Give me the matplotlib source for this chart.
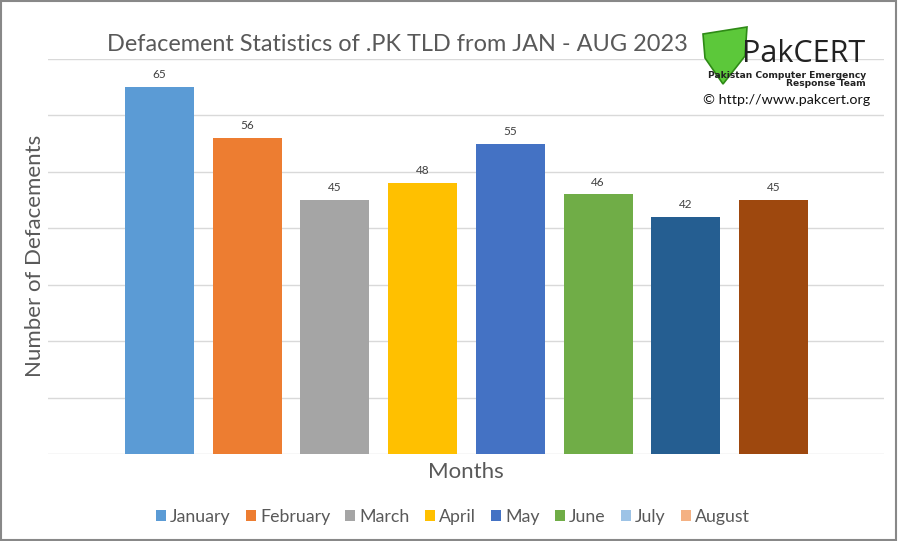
import matplotlib
matplotlib.use("Agg")
import matplotlib.pyplot as plt
from matplotlib.patches import Patch, Polygon, Rectangle

months = ["January", "February", "March", "April", "May", "June", "July", "August"]
values = [65, 56, 45, 48, 55, 46, 42, 45]
bar_colors = ["#5B9BD5", "#ED7D31", "#A5A5A5", "#FFC000", "#4472C4", "#70AD47", "#255E91", "#9E480E"]
legend_colors = ["#5B9BD5", "#ED7D31", "#A5A5A5", "#FFC000", "#4472C4", "#70AD47", "#9DC3E6", "#F4B183"]
yticks = [0, 10, 20, 30, 40, 50, 60, 70]

plt.rcParams['font.family'] = ['Lato', 'DejaVu Sans']
fig = plt.figure(figsize=(8.98, 5.41), dpi=100)
fig.patch.set_facecolor("white")
fig.add_artist(Rectangle((0.001, 0.002), 0.997, 0.996, transform=fig.transFigure,
                         fill=False, edgecolor="#888888", linewidth=1.5))

ax = fig.add_axes([48/898, 1-454/541, (884-48)/898, (454-59)/541])
x = list(range(len(months)))
bars = ax.bar(x, values, width=0.787, color=bar_colors, zorder=3)
for xi, v in zip(x, values):
    ax.text(xi, v + 1.2, str(v), ha="center", va="bottom", fontsize=8.5, color="#404040")
ax.set_xlim(-1.271, 8.26)
ax.set_ylim(0, 70)
ax.set_yticks(yticks)
ax.yaxis.grid(True, color="#D9D9D9", linewidth=1, zorder=0)
ax.tick_params(left=False, bottom=False, labelleft=False, labelbottom=False)
for s in ax.spines.values():
    s.set_visible(False)
ax.set_axisbelow(True)

fig.text(397/898, 1-45/541, "Defacement Statistics of .PK TLD from JAN - AUG 2023",
         ha="center", va="center", fontsize=16.9, color="#595959")
fig.text(35/898, 1-256/541, "Number of Defacements", rotation=90, ha="center", va="center",
         fontsize=16, color="#595959")
fig.text(466/898, 1-472/541, "Months", ha="center", va="center", fontsize=16, color="#595959")

handles = [Patch(facecolor=c, edgecolor="none", label=m) for c, m in zip(legend_colors, months)]
leg = fig.legend(handles=handles, loc="center", bbox_to_anchor=(453/898, 1-517/541), ncol=8,
                 frameon=False, fontsize=12.8, handlelength=0.55, handleheight=0.55,
                 handletextpad=0.25, columnspacing=0.85, labelcolor="#595959")

# Logo (approximation)
shield = Polygon([(703/898, 1-34/541), (747/898, 1-27/541), (745/898, 1-56/541),
                  (723/898, 1-84/541), (705/898, 1-58/541)],
                 closed=True, transform=fig.transFigure, facecolor="#5CC83A",
                 edgecolor="#2E8A16", linewidth=1.2)
fig.add_artist(shield)
fig.text(804/898, 1-54/541, "PakCERT", ha="center", va="center", fontsize=22, color="#222222",
         family=["Open Sans", "DejaVu Sans"])
fig.text(866/898, 1-75/541, "Pakistan Computer Emergency", ha="right", va="center", fontsize=6.6,
         color="#222222", fontweight="heavy", family=["DejaVu Sans"])
fig.text(866/898, 1-84/541, "Response Team", ha="right", va="center", fontsize=6.6,
         color="#222222", fontweight="heavy", family=["DejaVu Sans"])
fig.text(787/898, 1-100/541, "\u00a9 http://www.pakcert.org", ha="center", va="center", fontsize=10.3,
         color="#111111")

fig.savefig("out.png", dpi=100)
